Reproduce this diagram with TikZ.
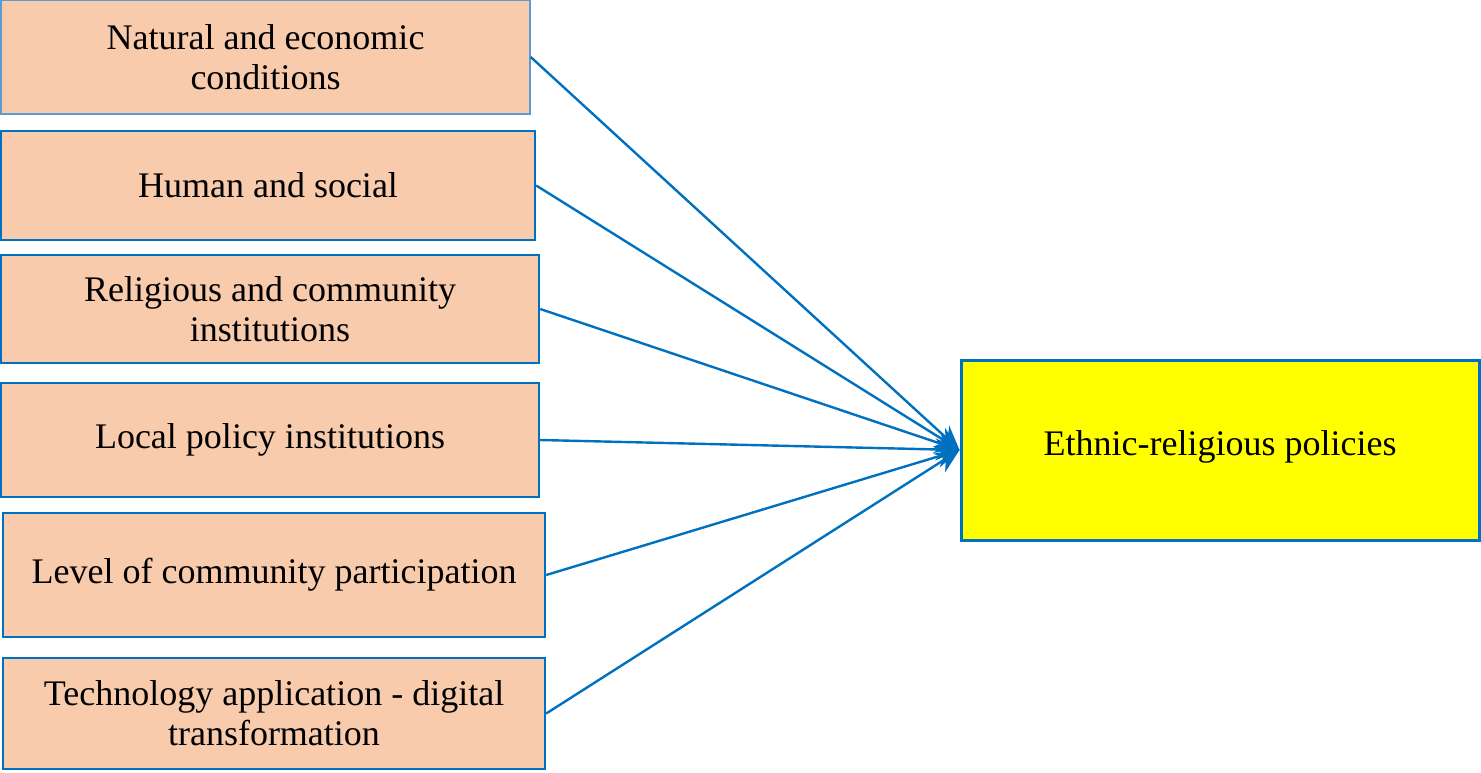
\documentclass[tikz,border=0pt]{standalone}
\usepackage{fontspec}
\setmainfont{Liberation Serif}
\usepackage{tikz}
\usetikzlibrary{arrows,arrows.meta,calc,positioning,shapes}
\tikzset{
  factor/.style = {align=center, rectangle, draw=my_blue, line width=1.2pt, fill=my_peach,
  text centered, inner sep=2pt, font=\fontsize{18}{20}\selectfont},
  fac_first/.style = {factor, draw=my_lightblue, line width=0.7pt},
  target/.style = {factor, fill=my_yellow, line width=1.5pt}
}
\definecolor{my_blue}{RGB}{0, 112, 192}
\definecolor{my_lightblue}{RGB}{91, 155, 213}
\definecolor{my_peach}{RGB}{248, 203, 173}
\definecolor{my_yellow}{RGB}{255, 255, 0}

\begin{document}
\begin{tikzpicture}[x=0.5pt,y=-0.5pt,>={Stealth[length=12pt,width=11pt]},
        	link/.style={->, draw=my_blue, line width=1.2pt}]
            \useasboundingbox (0,0) rectangle (1481,772);
            \node [fac_first, minimum width=264.5pt, minimum height=57pt] (nat) at (265.5,57)
              {Natural and economic\\conditions};
            \node [factor, minimum width=267pt, minimum height=54.5pt] (hum) at (268,185.5)
              {Human and social};
            \node [factor, minimum width=269pt, minimum height=54pt] (rel) at (270,309)
              {Religious and community\\institutions};
            \node [factor, minimum width=269pt, minimum height=57pt] (loc) at (270,440)
              {Local policy institutions};
            \node [factor, minimum width=271pt, minimum height=62pt] (lev) at (274,575)
              {Level of community participation};
            \node [factor, minimum width=271pt, minimum height=55.5pt] (tech) at (274,713.5)
              {Technology application - digital\\transformation};
            \node [target, minimum width=259pt, minimum height=90pt] (policy) at (1220,450)
              {\raisebox{7.5pt}{Ethnic-religious policies}};
            \foreach \src in {nat,hum,rel,loc,lev,tech}
              \draw [link] (\src.east) -- (policy.west);
        \end{tikzpicture}
\end{document}
